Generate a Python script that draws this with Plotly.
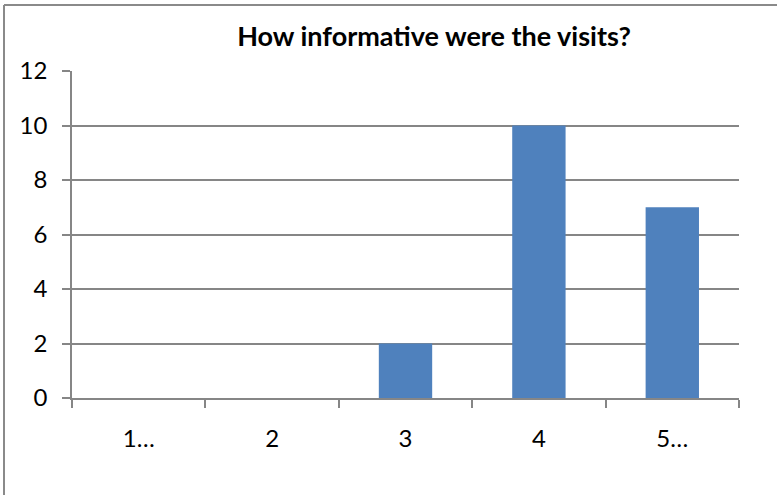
import plotly.graph_objects as go

categories = ["1…", "2", "3", "4", "5…"]
values = [0, 0, 2, 10, 7]
y_ticks = [0, 2, 4, 6, 8, 10, 12]
title_text = "How informative were the visits?"

W, H = 777, 495
L, R, T, B = 72, 38, 71, 97
pw, ph = W - L - R, H - T - B

fig = go.Figure(go.Bar(
    x=categories, y=values,
    marker=dict(color="#4F81BD", line=dict(width=0)),
))

grid = "#868686"
font = "Lato, Carlito, 'Liberation Sans', sans-serif"

fig.update_layout(
    width=W, height=H,
    margin=dict(l=L, r=R, t=T, b=B),
    paper_bgcolor="white", plot_bgcolor="white",
    bargap=0.6,
    showlegend=False,
    font=dict(family=font, size=24, color="black"),
    title=dict(text="<b>" + title_text + "</b>", x=(434) / W, xanchor="center",
               y=1 - 37 / H, yanchor="middle",
               font=dict(family=font, size=27, color="black")),
    xaxis=dict(
        type="category", showgrid=False, showline=True, linecolor=grid, linewidth=1.5,
        ticks="outside", tickson="boundaries", ticklen=8, tickcolor=grid, tickwidth=1.5,
        tickfont=dict(size=24), ticklabelstandoff=18,
    ),
    yaxis=dict(
        range=[0, 12], tickvals=y_ticks, showgrid=True, gridcolor=grid, gridwidth=1.5,
        showline=True, linecolor=grid, linewidth=1.5, zeroline=False,
        ticks="outside", ticklen=8, tickcolor=grid, tickwidth=1.5,
        tickfont=dict(size=24), ticklabelstandoff=10,
    ),
)

# outer chart border (top and left edges visible)
bx0 = (4 - L) / pw
by0 = (H - B - 5) / ph
fig.add_shape(type="line", xref="paper", yref="paper",
              x0=bx0, y0=by0, x1=(W - L) / pw + 0.01, y1=by0,
              line=dict(color="#8a8a8a", width=2))
fig.add_shape(type="line", xref="paper", yref="paper",
              x0=bx0, y0=by0, x1=bx0, y1=-(B + 5) / ph,
              line=dict(color="#8a8a8a", width=2))

fig.write_html("out.html")
